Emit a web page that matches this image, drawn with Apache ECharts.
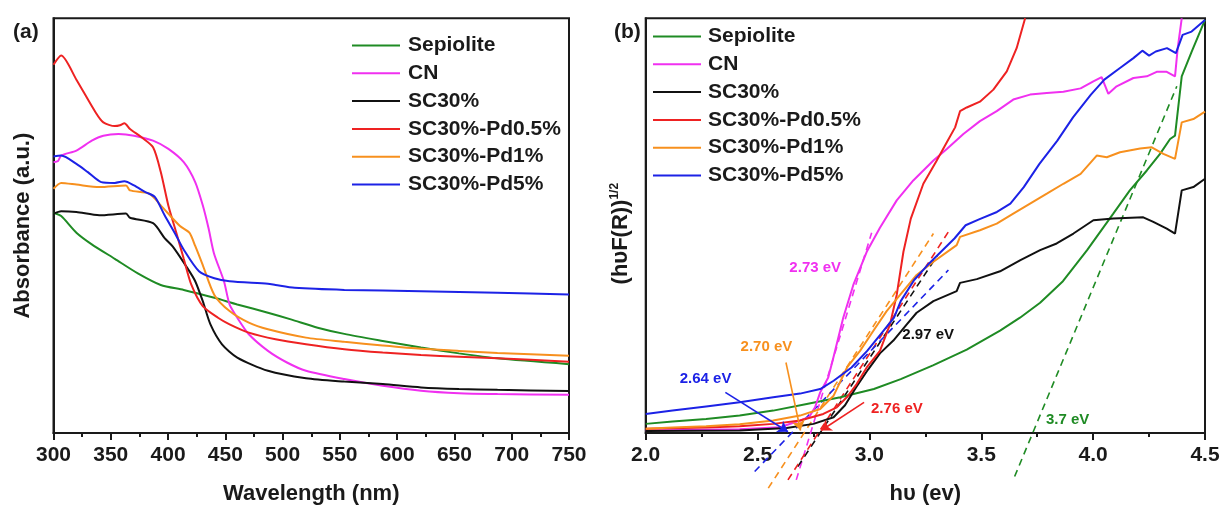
<!DOCTYPE html>
<html>
<head>
<meta charset="utf-8">
<script src="https://cdn.jsdelivr.net/npm/echarts@6/dist/echarts.min.js"></script>
<style>
  html, body { margin: 0; padding: 0; background: #fff; }
  #chart { width: 1223px; height: 510px; }
</style>
</head>
<body>
<div id="chart"></div>
<script>
// ---- (a) UV-vis absorbance, [wavelength nm, absorbance a.u.] ----
const absSepiolite = [[300,53.1],[306.7,52.3],[320,48.3],[333.4,45.5],[353.5,42.0],[373.6,38.5],[393.6,35.7],[413.7,34.5],[440.4,32.6],[460.4,31.0],[487.2,29.0],[507.2,27.4],[530.6,25.4],[553.9,23.9],[587.4,22.2],[620.8,20.6],[654,19.2],[687.6,18.0],[750,16.6]];
const absCN = [[300,65.3],[304,65.6],[306.7,66.9],[320,68.1],[333.4,70.5],[343.5,71.7],[356.8,72.1],[370.3,71.7],[386.9,70.5],[400.3,68.5],[413.7,65.3],[423.7,60.5],[430.3,54.9],[435.4,49.3],[440.1,43.3],[448.8,36.6],[453.7,31.0],[460.4,27.8],[470.5,23.8],[487.2,19.8],[503.8,17.0],[520.4,15.0],[553.9,13.0],[587.4,11.4],[620.8,10.2],[654,9.6],[687.6,9.4],[750,9.2]];
const absSC30 = [[300,52.9],[306.7,53.5],[320,53.3],[340,52.5],[363.3,52.9],[366.8,51.9],[386.9,50.6],[397,47.0],[404,45.0],[417,39.7],[423.7,36.6],[430.3,31.8],[437,26.2],[447.1,21.4],[460.4,18.2],[487.2,15.0],[520.4,13.2],[553.9,12.4],[587.4,11.8],[620.8,11.0],[654,10.6],[687.6,10.4],[750,10.1]];
const absPd05 = [[300,88.8],[306.7,91.0],[320,85.2],[336.8,77.3],[343.5,74.9],[353.5,74.0],[358,74.2],[361.9,74.7],[366.8,73.3],[376.9,71.3],[386.9,68.9],[393.6,63.0],[400.3,54.8],[406.9,48.6],[413.7,42.0],[420.4,35.7],[430.3,30.6],[443.6,27.8],[453.7,26.2],[470.5,24.2],[493.8,22.6],[520.4,21.4],[553.9,20.2],[587.4,19.4],[620.8,18.8],[654,18.4],[687.6,18.0],[750,17.2]];
const absPd1 = [[300,58.9],[306.7,60.3],[320,59.9],[340,59.3],[363.3,59.7],[366.8,58.5],[383.6,57.7],[393.6,54.9],[410.4,49.9],[418.6,48.3],[423.7,45.1],[430.3,40.5],[440.4,33.3],[453.7,29.4],[470.5,26.6],[487.2,25.0],[520.4,23.0],[553.9,22.0],[587.4,21.1],[620.8,20.3],[654,19.8],[687.6,19.3],[750,18.6]];
const absPd5 = [[300,66.7],[306.7,66.9],[320,64.9],[330,62.9],[341.7,60.5],[353.5,60.3],[361.9,60.7],[370.3,59.7],[380.2,58.1],[388.6,56.9],[397,52.5],[406.9,47.7],[413.7,44.2],[427,39.0],[440.4,37.3],[453.7,36.6],[487.2,36.0],[493.8,35.7],[510.5,35.0],[553.9,34.5],[620.8,34.2],[687.6,33.8],[750,33.4]];

// ---- (b) Tauc plot, [photon energy eV, (hυF(R))^1/2 a.u.] ----
const taucSepiolite = [[2.00,2.2],[2.12,2.8],[2.27,3.4],[2.42,4.2],[2.57,5.4],[2.72,7.0],[2.87,8.6],[3.02,10.6],[3.14,13.0],[3.284,16.3],[3.435,20.1],[3.584,24.7],[3.673,27.8],[3.763,31.4],[3.865,36.6],[3.973,44.1],[4.090,52.9],[4.164,58.5],[4.240,63.3],[4.299,67.3],[4.344,70.9],[4.366,71.7],[4.396,86.0],[4.441,92.0],[4.500,99.6]];
const taucCN = [[2.00,0.6],[2.42,0.9],[2.60,1.4],[2.69,3.0],[2.73,3.8],[2.757,6.2],[2.78,9.8],[2.816,13.4],[2.839,18.2],[2.883,27.8],[2.928,35.7],[2.988,43.7],[3.047,49.5],[3.122,56.1],[3.196,60.9],[3.286,65.7],[3.346,68.5],[3.420,72.1],[3.494,75.2],[3.569,77.6],[3.643,80.4],[3.718,81.6],[3.793,82.0],[3.867,82.3],[3.944,83.1],[4.001,84.8],[4.038,85.8],[4.068,81.8],[4.105,83.6],[4.180,85.6],[4.240,86.0],[4.284,87.1],[4.329,87.1],[4.366,86.0],[4.378,92.8],[4.396,100]];
const taucSC30 = [[2.00,0.5],[2.42,0.6],[2.63,1.2],[2.75,2.2],[2.84,3.8],[2.891,6.7],[2.940,11.0],[2.994,15.3],[3.047,19.2],[3.107,22.3],[3.167,26.2],[3.211,29.0],[3.286,31.8],[3.390,34.2],[3.405,36.2],[3.480,37.1],[3.584,39.0],[3.675,41.7],[3.763,44.1],[3.837,45.7],[3.912,48.1],[4.001,51.3],[4.090,51.7],[4.224,52.0],[4.269,50.9],[4.329,49.3],[4.366,48.1],[4.396,58.5],[4.448,59.3],[4.500,61.3]];
const taucPd05 = [[2.00,1.0],[2.27,1.3],[2.42,1.6],[2.57,2.2],[2.69,3.0],[2.794,4.6],[2.854,6.2],[2.899,8.6],[2.943,11.8],[2.988,15.8],[3.047,19.8],[3.092,26.2],[3.122,33.3],[3.152,43.7],[3.185,51.7],[3.241,60.1],[3.301,65.7],[3.346,70.1],[3.383,73.7],[3.405,77.6],[3.435,78.5],[3.494,79.9],[3.554,82.8],[3.614,87.2],[3.658,92.8],[3.696,100]];
const taucPd1 = [[2.00,1.0],[2.12,1.3],[2.27,1.6],[2.42,2.1],[2.57,3.0],[2.69,4.2],[2.78,5.8],[2.84,9.0],[2.90,15.8],[2.958,19.8],[3.017,24.6],[3.077,29.4],[3.137,33.3],[3.211,38.1],[3.286,41.3],[3.390,45.3],[3.405,47.3],[3.494,48.9],[3.569,50.5],[3.643,52.9],[3.718,55.3],[3.793,57.7],[3.867,60.1],[3.944,62.5],[4.016,66.9],[4.061,66.5],[4.120,67.7],[4.210,68.6],[4.262,68.9],[4.314,67.3],[4.366,66.1],[4.396,74.9],[4.448,75.7],[4.500,77.5]];
const taucPd5 = [[2.00,4.6],[2.12,5.4],[2.27,6.4],[2.42,7.4],[2.57,8.6],[2.69,9.5],[2.78,10.6],[2.84,12.6],[2.92,15.8],[2.99,19.8],[3.05,23.8],[3.11,27.8],[3.14,31.8],[3.20,36.9],[3.26,40.5],[3.32,43.7],[3.38,46.9],[3.43,50.1],[3.49,51.5],[3.57,53.3],[3.63,55.3],[3.69,59.3],[3.76,64.9],[3.84,70.5],[3.91,76.1],[3.99,81.6],[4.05,85.2],[4.12,88.0],[4.18,90.4],[4.22,92.2],[4.25,91.0],[4.28,92.0],[4.33,92.8],[4.37,91.6],[4.40,96.0],[4.44,96.8],[4.50,99.6]];

// Linear-fit extrapolations of the absorption edges (start and end points)
const fitCN = [[2.673,-11.3],[3.010,48.3]];
const fitSC30 = [[2.680,-8.1],[3.305,42.9]];
const fitPd05 = [[2.636,-11.3],[3.353,48.5]];
const fitPd1 = [[2.548,-13.3],[3.286,48.1]];
const fitPd5 = [[2.487,-9.3],[3.353,39.3]];
const fitSepiolite = [[3.649,-10.5],[4.374,83.6]];

// Band-gap annotations: text, anchor, colour key
const gapLabels = [
  ['2.73 eV', [2.760, 39.6], 'CN'],
  ['2.70 eV', [2.542, 20.6], 'Pd1'],
  ['2.64 eV', [2.270, 13.0], 'Pd5'],
  ['2.76 eV', [3.125, 5.7], 'Pd05'],
  ['2.97 eV', [3.265, 23.6], 'SC30'],
  ['3.7 eV', [3.888, 3.1], 'Sepiolite']
];
// Pointer arrows: tail -> head
const gapArrows = [
  [[2.356, 9.8], [2.636, 0.3], 'Pd5'],
  [[2.627, 17.0], [2.692, 0.6], 'Pd1'],
  [[2.976, 7.4], [2.784, 0.6], 'Pd05']
];

const seriesNames = ['Sepiolite', 'CN', 'SC30%', 'SC30%-Pd0.5%', 'SC30%-Pd1%', 'SC30%-Pd5%'];
const colors = {
  Sepiolite: '#1f8b24', CN: '#f030f0', SC30: '#111111',
  Pd05: '#ee2222', Pd1: '#f7901e', Pd5: '#1c22e6'
};
const keys = ['Sepiolite', 'CN', 'SC30', 'Pd05', 'Pd1', 'Pd5'];

const FONT = "'Liberation Sans', Arial, Helvetica, sans-serif";
const INK = '#1a1a1a';

function curve(name, key, data, idx, smooth) {
  return {
    name: name, type: 'line', xAxisIndex: idx, yAxisIndex: idx,
    data: data, symbol: 'none', smooth: smooth,
    lineStyle: { color: colors[key], width: 2 },
    itemStyle: { color: colors[key] },
    z: 3
  };
}
function fitLine(key, data) {
  return {
    name: 'fit-' + key, type: 'line', xAxisIndex: 1, yAxisIndex: 1,
    data: data, symbol: 'none', clip: false, silent: true,
    lineStyle: { color: colors[key], width: 1.6, type: [7, 5] },
    z: 2
  };
}

const absSets = [absSepiolite, absCN, absSC30, absPd05, absPd1, absPd5];
const taucSets = [taucSepiolite, taucCN, taucSC30, taucPd05, taucPd1, taucPd5];
const fitSets = { Sepiolite: fitSepiolite, CN: fitCN, SC30: fitSC30, Pd05: fitPd05, Pd1: fitPd1, Pd5: fitPd5 };

const series = [];
keys.forEach((k, i) => series.push(curve(seriesNames[i], k, absSets[i], 0, 0.25)));
keys.forEach((k, i) => series.push(curve(seriesNames[i], k, taucSets[i], 1, false)));
keys.forEach(k => series.push(fitLine(k, fitSets[k])));

series.push({
  name: 'arrows', type: 'lines', coordinateSystem: 'cartesian2d',
  xAxisIndex: 1, yAxisIndex: 1, silent: true,
  symbol: ['none', 'arrow'], symbolSize: 10,
  data: gapArrows.map(a => ({ coords: [a[0], a[1]], lineStyle: { color: colors[a[2]], width: 1.6, opacity: 1 } })),
  z: 4
});
series.push({
  name: 'gap-labels', type: 'scatter', xAxisIndex: 1, yAxisIndex: 1,
  silent: true, symbolSize: 1, itemStyle: { color: 'rgba(0,0,0,0)' },
  data: gapLabels.map(g => ({
    value: g[1], name: g[0],
    label: { show: true, position: [0, 0], align: 'center', verticalAlign: 'middle',
      formatter: g[0], color: colors[g[2]], opacity: 1, textBorderWidth: 0,
      fontFamily: FONT, fontWeight: 'bold', fontSize: 15 }
  })),
  z: 5
});

function xAxis(idx, min, max, interval, name, gap) {
  return {
    gridIndex: idx, type: 'value', min: min, max: max, interval: interval,
    axisLine: { show: true, onZero: false, lineStyle: { color: INK, width: 2 } },
    axisTick: { show: true, inside: false, length: 7, lineStyle: { color: INK, width: 2 } },
    minorTick: { show: true, splitNumber: 2, length: 4, lineStyle: { color: INK, width: 2 } },
    splitLine: { show: false }, minorSplitLine: { show: false },
    axisLabel: { fontFamily: FONT, fontWeight: 'bold', fontSize: 21, color: INK, margin: 12,
      formatter: v => interval < 1 ? v.toFixed(1) : String(v) },
    name: name, nameLocation: 'middle', nameGap: gap,
    nameTextStyle: { fontFamily: FONT, fontWeight: 'bold', fontSize: 22, color: INK }
  };
}
function yAxis(idx, name, gap, rich, pad) {
  const ax = {
    gridIndex: idx, type: 'value', min: 0, max: 100,
    axisLine: { show: true, lineStyle: { color: INK, width: 2 } },
    axisTick: { show: false }, axisLabel: { show: false }, splitLine: { show: false },
    name: name, nameLocation: 'middle', nameGap: gap, nameRotate: 90,
    nameTextStyle: { fontFamily: FONT, fontWeight: 'bold', fontSize: 22, color: INK, padding: pad || 0 }
  };
  if (rich) ax.nameTextStyle.rich = rich;
  return ax;
}
function legend(left, top, textPad) {
  return {
    data: seriesNames.map(n => ({ name: n, icon: 'rect' })),
    orient: 'vertical', left: left, top: top, padding: 0,
    itemWidth: 48, itemHeight: 2, itemGap: 6.8, selectedMode: false,
    textStyle: { fontFamily: FONT, fontWeight: 'bold', fontSize: 21, color: INK, lineHeight: 20, padding: [0, 0, 0, textPad] }
  };
}

const option = {
  animation: false,
  backgroundColor: '#ffffff',
  title: [
    { text: '(a)', left: 8, top: 17, textStyle: { fontFamily: FONT, fontWeight: 'bold', fontSize: 21, color: INK } },
    { text: '(b)', left: 609, top: 17, textStyle: { fontFamily: FONT, fontWeight: 'bold', fontSize: 21, color: INK } }
  ],
  grid: [
    { left: 53.5, top: 18.3, width: 515.5, height: 417.7, show: true, borderColor: INK, borderWidth: 2, backgroundColor: 'transparent' },
    { left: 645.7, top: 18.3, width: 559.3, height: 417.7, show: true, borderColor: INK, borderWidth: 2, backgroundColor: 'transparent' }
  ],
  legend: [legend(352, 35, 3), legend(653, 26, 2)],
  xAxis: [
    xAxis(0, 300, 750, 50, 'Wavelength (nm)', 50),
    xAxis(1, 2.0, 4.5, 0.5, 'hυ (ev)', 50)
  ],
  yAxis: [
    yAxis(0, 'Absorbance (a.u.)', 20),
    yAxis(1, '{m|(hυF(R))}{s|1/2}', 13, {
      m: { fontFamily: FONT, fontWeight: 'bold', fontSize: 22, color: INK },
      s: { fontFamily: FONT, fontWeight: 'bold', fontSize: 12, color: INK, verticalAlign: 'top', padding: [0, 0, 12, 0] }
    }, [0, 16, 0, 0])
  ],
  series: series
};

const chart = echarts.init(document.getElementById('chart'), null, { renderer: 'canvas' });
chart.setOption(option);
</script>
</body>
</html>
